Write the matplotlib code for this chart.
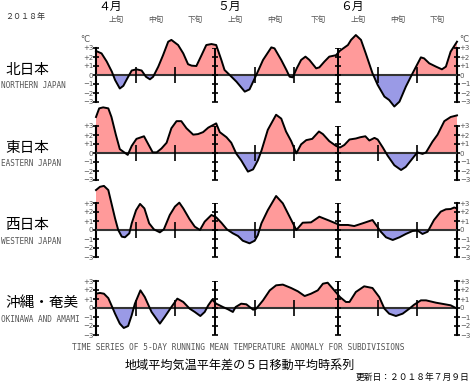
import numpy as np
import matplotlib
matplotlib.use("Agg")
import matplotlib.pyplot as plt
from matplotlib.transforms import blended_transform_factory

plt.rcParams['font.family'] = ['Noto Sans CJK JP', 'DejaVu Sans']

# days counted from April 1 (0) to July 1 (91)
month_starts = [0, 30, 61, 91]
month_labels = ["４月", "５月", "６月"]
dekad_marks = [10, 20, 40, 50, 71, 81]
dekad_centers = [5, 15, 25, 35, 45, 56, 66, 76, 86]
dekad_labels = ["上旬", "中旬", "下旬"] * 3

regions = ["北日本", "東日本", "西日本", "沖縄・奄美"]
regions_en = ["NORTHERN JAPAN", "EASTERN JAPAN", "WESTERN JAPAN", "OKINAWA AND AMAMI"]

nj_days = [0, 1.4, 2.7, 4, 4.8, 6, 6.9, 7.9, 9, 10.2, 11.5, 12.6, 13.6, 14.4, 15.7, 16.9,
           18.2, 19, 20.7, 22, 23.2, 24.1, 25.3, 26.6, 27.8, 29.1, 30.3, 31.6, 32.4, 33.7,
           35.4, 37.5, 38.7, 40.4, 42.1, 44.2, 45, 46.7, 48, 48.8, 49.6, 50.6, 51.7, 52.8,
           53.8, 55.5, 56.3, 57.6, 58.8, 60.5, 61.5, 63.5, 64.3, 65.5, 66.8, 68, 69.7, 71,
           72.7, 73.9, 75.2, 76.5, 78.1, 79.8, 81.9, 82.7, 84, 85.7, 87.2, 88.2, 89.4, 91]
nj_vals = [2.67, 2.4, 1.5, 0.37, -0.55, -1.5, -1.2, -0.37, 0.5, 0.63, 0.5, -0.2, -0.48, -0.2,
           0.93, 2.2, 3.7, 3.9, 3.33, 2.4, 1.2, 1.04, 1.0, 2.2, 3.33, 3.44, 3.33, 1.67, 0.56,
           0, -0.74, -1.85, -1.6, 0, 1.67, 3.07, 2.96, 1.67, 0.56, -0.19, -0.26, 0.74, 1.67,
           2.04, 1.67, 0.74, 0.85, 1.5, 2.04, 2.2, 2.7, 3.33, 3.9, 4.44, 3.9, 2.4, 0.19, -1.1,
           -2.4, -2.78, -3.5, -2.96, -1.3, 0.19, 1.96, 1.85, 1.3, 0.93, 0.63, 0.93, 2.6, 3.7]

ej_days = [0, 0.8, 1.8, 3.1, 3.9, 5, 6, 6.9, 8, 9, 10.2, 12.1, 13.2, 14.3, 15.3, 16.5,
           17.8, 19, 20.3, 21.5, 22.8, 24.5, 25.7, 27, 28.3, 30.3, 31.2, 32.9, 34.1, 35.4,
           36.6, 38.3, 39.6, 40.8, 41.7, 43.3, 45.4, 46.7, 47.9, 49.2, 50.5, 51.7, 53,
           54.5, 56.2, 57.2, 58.8, 60.5, 61.5, 62.6, 63.9, 65.5, 66.6, 67.9, 68.9, 70.2,
           71, 72.3, 73.5, 75.2, 76.9, 78.1, 79.4, 81, 82.3, 83.2, 84.8, 86.1, 87.8, 89.4, 91]
ej_vals = [4.0, 4.96, 5.07, 4.96, 4.0, 2.04, 0.43, 0.14, -0.21, 0.79, 1.57, 1.86, 0.96, 0.07,
           0.07, 0.5, 1.14, 2.75, 3.54, 3.54, 2.75, 2.04, 2.1, 2.32, 2.82, 3.29, 2.32, 1.75,
           1.14, -0.1, -0.82, -2.07, -1.82, -0.82, 0.25, 2.57, 4.25, 3.82, 2.39, 1.32, -0.04,
           0.96, 1.43, 1.57, 2.39, 2.1, 1.32, 0.79, 0.61, 0.89, 1.5, 1.61, 1.75, 1.86, 1.39,
           1.68, 1.5, 0.61, -0.29, -1.36, -1.89, -1.54, -0.82, 0.07, -0.1, 0.07, 1.25, 2.04,
           3.54, 4.0, 4.18]

wj_days = [0, 1, 2, 3.1, 3.9, 4.8, 5.6, 6.5, 7.3, 8.4, 9, 10.1, 11.1, 12.2, 13.4, 14.6,
           16.1, 17.1, 18.6, 19.9, 21, 22, 23.6, 24.9, 26.2, 27.4, 29.1, 30.3, 31.6, 33,
           34.5, 35.8, 37, 38.7, 40, 40.8, 41.7, 43.3, 45.4, 47.1, 48.8, 50.5, 52.1, 54.2,
           56.3, 58.8, 61.4, 63.5, 65.1, 67.2, 69.7, 70.6, 71.8, 73.1, 74.8, 76.5, 78.1,
           79.8, 81.1, 82.3, 83.6, 85.2, 86.9, 88.2, 89.4, 90.3, 91]
wj_vals = [4.44, 4.8, 4.9, 4.44, 2.96, 1.3, 0, -0.74, -0.81, -0.37, 0.74, 2.2, 2.9, 2.4, 0.74,
           0.07, -0.26, 0.07, 1.67, 2.6, 3.04, 2.4, 1.19, 0.37, 0, 0.93, 1.67, 1.41, 0.81,
           0.07, -0.37, -0.67, -1.19, -1.48, -1.19, -0.56, 0.74, 2.2, 3.78, 2.96, 1.48, 0,
           0.81, 0.85, 1.48, 1.04, 0.56, 0.56, 0.44, 0.74, 1.11, 0.56, -0.19, -0.81, -1.11,
           -0.81, -0.44, -0.11, -0.07, -0.44, -0.19, 1.11, 2.04, 2.3, 2.33, 2.5, 2.4]

oa_days = [0, 1, 2, 3.1, 3.9, 4.8, 6, 7, 8.1, 9, 9.8, 11.2, 12.3, 14, 16.1, 17.3, 19,
           20.5, 22, 23.6, 24.9, 26.3, 27.4, 28.3, 29.3, 30.3, 32, 33.3, 34.5, 35.2, 36.6,
           37.9, 39.6, 40.4, 42.1, 43.8, 45.4, 47.1, 49.2, 50.9, 52.6, 54.2, 55.9, 57.2,
           58.4, 59.7, 61.5, 63, 63.9, 65.5, 67.6, 69.7, 71.4, 72.7, 73.9, 75.6, 77.3, 79,
           80.2, 81.9, 83.2, 85.7, 89.4, 91]
oa_vals = [1.59, 1.67, 1.59, 1.1, 0.3, -0.63, -1.74, -2.22, -2.0, -0.81, 0.48, 1.96, 1.22,
           -0.44, -1.74, -1.0, 0.11, 1.04, 0.67, -0.07, -0.44, -0.89, -0.44, 0.3, 0.93, 0.48,
           0.11, -0.15, -0.44, 0.11, 0.48, 0.41, -0.19, -0.07, 0.85, 1.96, 2.52, 2.6, 2.22,
           1.85, 1.33, 1.59, 1.96, 2.7, 2.81, 2.15, 1.22, 0.67, 0.67, 1.78, 2.41, 2.22, 1.22,
           -0.07, -0.63, -0.89, -0.63, -0.07, 0.37, 0.85, 0.85, 0.59, 0.3, -0.07]

series = [(nj_days, nj_vals), (ej_days, ej_vals), (wj_days, wj_vals), (oa_days, oa_vals)]

W, H = 471, 382
fig = plt.figure(figsize=(W / 100, H / 100), dpi=100)


def fx(x):
    return x / W


def fy(y):
    return 1 - y / H


pos_col = "#ff9a9a"
neg_col = "#9a9ae6"
gray = "#555555"
zero_rows = [75, 153, 230, 308]
unit = 9.0
x_left, x_right = 96, 457

axes = []
for i, (days, vals) in enumerate(series):
    y0 = zero_rows[i]
    ax = fig.add_axes([fx(x_left), fy(y0 + 3 * unit), fx(x_right - x_left), 6 * unit / H])
    ax.set_xlim(0, 91)
    ax.set_ylim(-3, 3)
    ax.patch.set_alpha(0)
    d = np.array(days, dtype=float)
    v = np.array(vals, dtype=float)
    ax.fill_between(d, v, 0, where=v >= 0, interpolate=True, color=pos_col, lw=0, clip_on=False)
    ax.fill_between(d, v, 0, where=v <= 0, interpolate=True, color=neg_col, lw=0, clip_on=False)
    ax.axhline(0, color="#333333", lw=1.5, zorder=3)
    ax.plot(d, v, color="black", lw=1.4, clip_on=False, zorder=4)

    for sp in ["top", "bottom"]:
        ax.spines[sp].set_visible(False)
    for sp in ["left", "right"]:
        ax.spines[sp].set_linewidth(1.5)
    ax.set_xticks([])
    ticks = list(range(-3, 4))
    ax.set_yticks(ticks)
    ax.set_yticklabels(["+%d" % t if t > 0 else ("0" if t == 0 else "\u2212%d" % -t) for t in ticks])
    ax.tick_params(axis="y", which="both", direction="inout", length=4, width=1.2,
                   left=True, right=True, labelleft=True, labelright=True,
                   labelsize=5, labelcolor=gray, pad=0)
    for lab in ax.get_yticklabels():
        lab.set_family("DejaVu Sans")

    # month boundaries with cross ticks
    for m in month_starts[1:3]:
        ax.plot([m, m], [-3, 3], color="black", lw=1.4, zorder=5)
        ax.plot([m] * len(ticks), ticks, ls="none", marker="_", ms=5, mew=1.2,
                color="black", zorder=5)
    ax.vlines(dekad_marks, -0.9, 0.9, color="black", lw=1.2, zorder=5)

    fig.text(fx(5), fy(y0 - 5), regions[i], fontsize=10.5, ha="left", va="center")
    fig.text(fx(1), fy(y0 + 11), regions_en[i], fontsize=5.6, ha="left", va="center",
             family="DejaVu Sans Mono", color=gray)
    axes.append(ax)

# header
top = axes[0]
tr = blended_transform_factory(top.transData, fig.transFigure)
for m, lab in zip(month_starts[:3], month_labels):
    top.text(m + 3.5, fy(6), lab, transform=tr, fontsize=8.5, ha="center", va="center")
for c, lab in zip(dekad_centers, dekad_labels):
    top.text(c, fy(20), lab, transform=tr, fontsize=5.5, ha="center", va="center", color=gray)
fig.text(fx(5), fy(16), "２０１８年", fontsize=5.8, ha="left", va="center", color="#333333")
fig.text(fx(85), fy(39), "°C", fontsize=6, ha="center", va="center", color=gray,
         family="DejaVu Sans")
fig.text(fx(464), fy(39), "°C", fontsize=6, ha="center", va="center", color=gray,
         family="DejaVu Sans")

# footer
fig.text(fx(238), fy(348), "TIME SERIES OF 5-DAY RUNNING MEAN TEMPERATURE ANOMALY FOR SUBDIVISIONS",
         fontsize=5.7, ha="center", va="center", family="DejaVu Sans Mono", color=gray)
fig.text(fx(240), fy(365), "地域平均気温平年差の５日移動平均時系列", fontsize=8.7,
         ha="center", va="center")
fig.text(fx(469), fy(377), "更新日：２０１８年７月９日", fontsize=6.3, ha="right", va="center")

fig.savefig("out.png", dpi=100)
